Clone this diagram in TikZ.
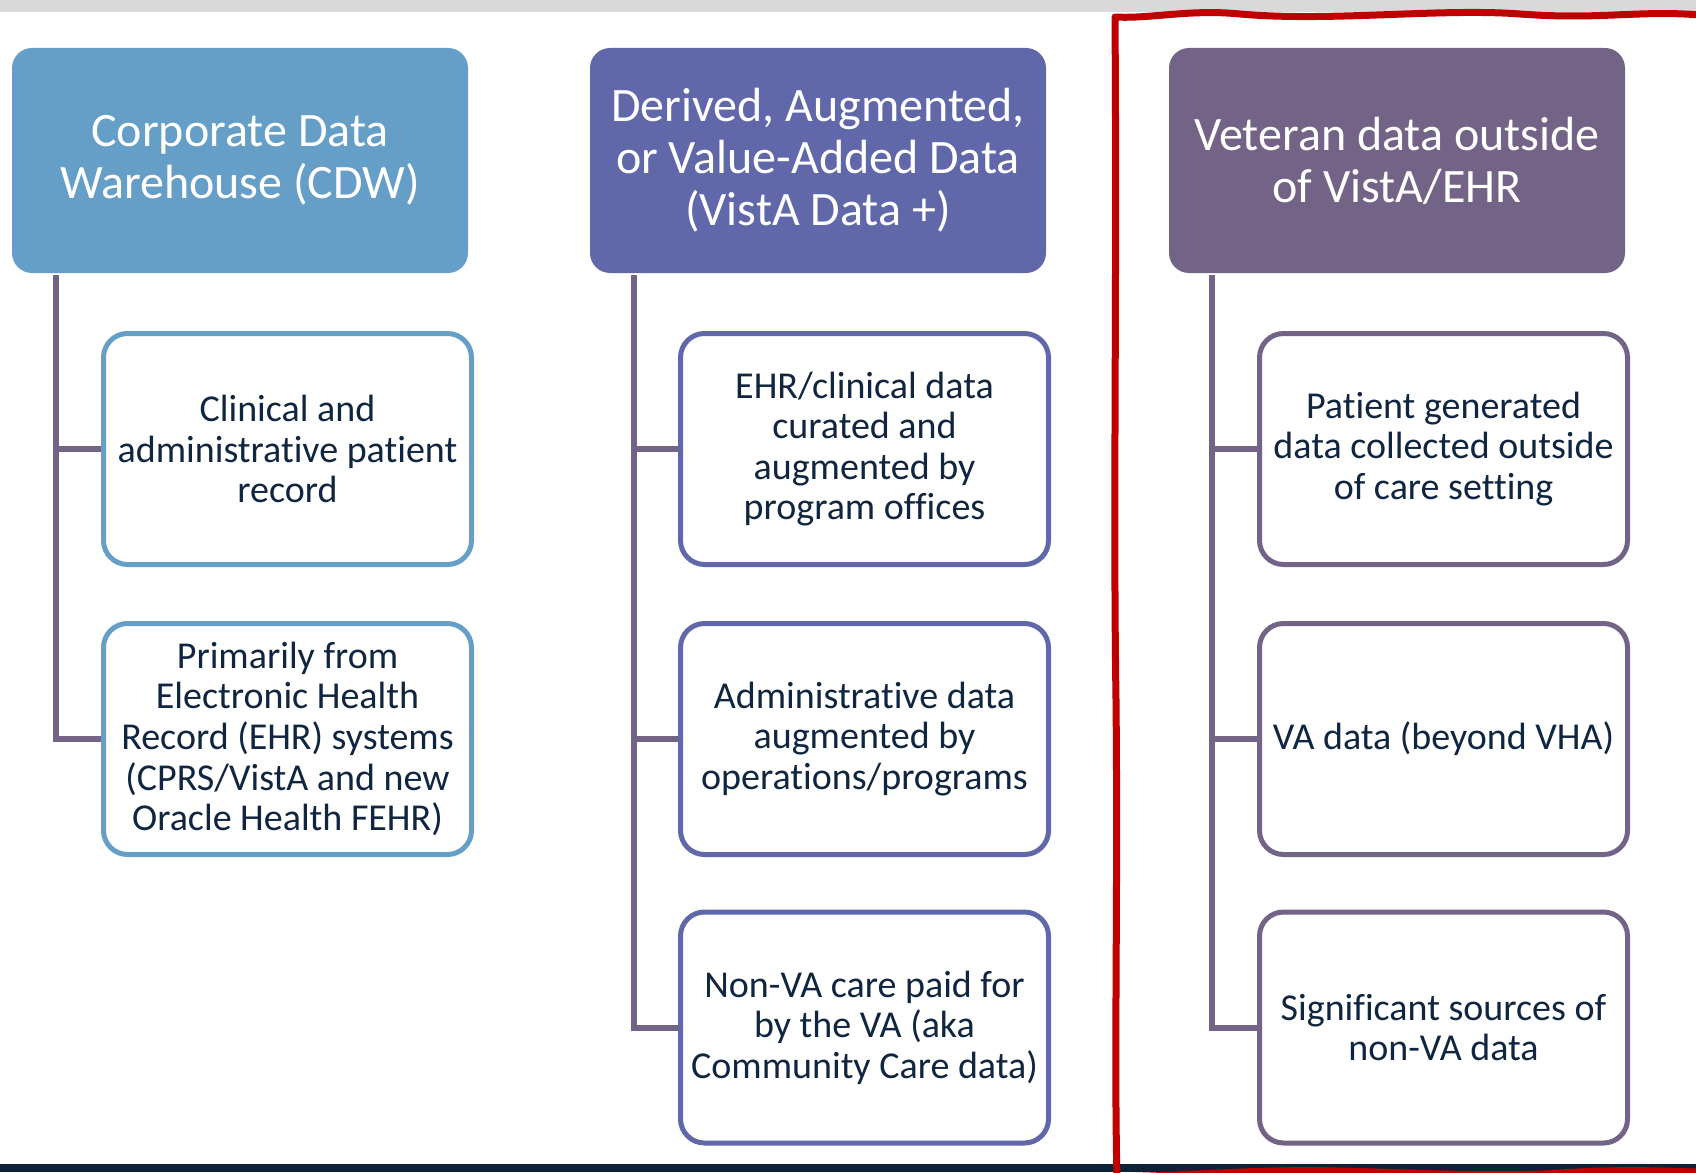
\documentclass[tikz,border=0pt]{standalone}
\usepackage{fontspec}
\setmainfont{Carlito}[Ligatures=NoCommon]
\definecolor{hdrblue}{HTML}{659EC7}
\definecolor{hdrindigo}{HTML}{6068AA}
\definecolor{hdrmauve}{HTML}{736487}
\definecolor{txtnavy}{HTML}{0F2540}
\definecolor{topgray}{HTML}{D9D9D9}
\definecolor{botnavy}{HTML}{0B2239}
\definecolor{annotred}{HTML}{C00000}
\begin{document}
\begin{tikzpicture}[x=0.5pt,y=-0.5pt,
  hdr/.style={rounded corners=10pt, minimum width=228pt, minimum height=112.5pt,
    inner sep=0pt, align=center, text=white, font=\fontsize{24}{26}\selectfont},
  child/.style={draw, line width=2.5pt, rounded corners=12pt, fill=white,
    minimum width=184pt, minimum height=115.5pt, inner sep=0pt, align=center,
    text=txtnavy, font=\fontsize{19}{20.3}\selectfont},
  tree/.style={draw=hdrmauve, line width=3pt},
  redline/.style={draw=annotred, line width=3.5pt, line cap=round, line join=round}]
\useasboundingbox (0,0) rectangle (1696,1172);
\fill[topgray] (0,0) rectangle (1696,12);
\fill[botnavy] (0,1164) rectangle (1696,1172);

% headers
\node[hdr, fill=hdrblue] (h1) at (240,160.5) {Corporate Data\\Warehouse (CDW)};
\node[hdr, fill=hdrindigo] (h2) at (818,160.5) {Derived, Augmented,\\or Value-Added Data\\(VistA Data +)};
\node[hdr, fill=hdrmauve] (h3) at (1397,160.5) {Veteran data outside\\of VistA/EHR};

% tree connectors
\coordinate (t1) at (56,275);
\coordinate (t2) at (634,275);
\coordinate (t3) at (1212,275);

% column 1
\node[child, draw=hdrblue] (a1) at (287.5,449) {Clinical and\\administrative patient\\record};
\node[child, draw=hdrblue] (a2) at (287.5,739) {Primarily from\\Electronic Health\\Record (EHR) systems\\(CPRS/VistA and new\\Oracle Health FEHR)};
% column 2
\node[child, draw=hdrindigo] (b1) at (864.5,449) {EHR/clinical data\\curated and\\augmented by\\program offices};
\node[child, draw=hdrindigo] (b2) at (864.5,739) {Administrative data\\augmented by\\operations/programs};
\node[child, draw=hdrindigo] (b3) at (864.5,1027.5) {Non-VA care paid for\\by the VA (aka\\Community Care data)};
% column 3
\node[child, draw=hdrmauve] (c1) at (1443.5,449) {Patient generated\\data collected outside\\of care setting};
\node[child, draw=hdrmauve] (c2) at (1443.5,739) {VA data (beyond VHA)};
\node[child, draw=hdrmauve] (c3) at (1443.5,1027.5) {Significant sources of\\non-VA data};

\draw[tree] (t1) |- (a2.west);
\draw[tree] (t1 |- a1.west) -- (a1.west);
\draw[tree] (t2) |- (b3.west);
\draw[tree] (t2 |- b1.west) -- (b1.west);
\draw[tree] (t2 |- b2.west) -- (b2.west);
\draw[tree] (t3) |- (c3.west);
\draw[tree] (t3 |- c1.west) -- (c1.west);
\draw[tree] (t3 |- c2.west) -- (c2.west);

% red hand-drawn annotation
\draw[redline] (1700,15) .. controls (1640,10) and (1600,20) .. (1520,14)
  .. controls (1440,8) and (1330,22) .. (1240,14)
  .. controls (1190,9) and (1150,19) .. (1115,17)
  .. controls (1117,300) and (1113,500) .. (1116,700)
  .. controls (1118,900) and (1114,1050) .. (1117,1180);
\draw[redline] (1117,1177) .. controls (1200,1175) and (1260,1169) .. (1340,1171)
  .. controls (1420,1173) and (1500,1177) .. (1560,1173)
  .. controls (1620,1169) and (1660,1171) .. (1700,1172);
\end{tikzpicture}
\end{document}
